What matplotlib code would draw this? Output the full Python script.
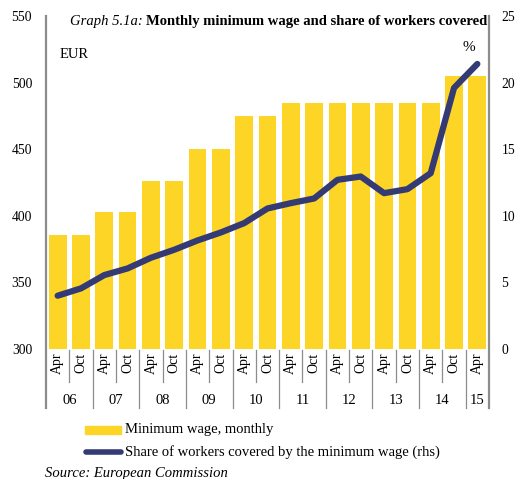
import matplotlib.pyplot as plt
from matplotlib import transforms

plt.rcParams['font.family'] = ['Liberation Serif', 'DejaVu Serif']

months = ['Apr', 'Oct'] * 9 + ['Apr']
years = ['06', '07', '08', '09', '10', '11', '12', '13', '14', '15']
min_wage = [385.9, 385.9, 403, 403, 426, 426, 450, 450, 475, 475,
            485, 485, 485, 485, 485, 485, 485, 505, 505]
share = [4.0, 4.55, 5.55, 6.05, 6.85, 7.45, 8.15, 8.75, 9.45, 10.55,
         10.95, 11.3, 12.7, 12.95, 11.7, 12.0, 13.2, 19.6, 21.4]

yellow = '#fdd526'
navy = '#343b74'
grey = '#8c8c8c'

fig = plt.figure(figsize=(5.18, 4.79), dpi=100)
ax = fig.add_axes([0.0888, 0.2714, 0.8552, 0.6952])
ax2 = ax.twinx()

x = list(range(len(min_wage)))
ax.bar(x, min_wage, width=0.76, color=yellow, zorder=1)
ax2.plot(x, share, color=navy, lw=4.5, solid_capstyle='round', zorder=3)

ax.set_xlim(-0.5, len(x) - 0.5)
ax.set_ylim(300, 550)
ax2.set_ylim(0, 25)
ax.set_yticks([300, 350, 400, 450, 500, 550])
ax2.set_yticks([0, 5, 10, 15, 20, 25])
ax.set_xticks([])

for a in (ax, ax2):
    for s in a.spines.values():
        s.set_visible(False)
    a.tick_params(axis='y', length=0, labelsize=9.8)
ax.tick_params(axis='y', pad=10)
ax2.tick_params(axis='y', pad=9)

# left / right frame lines extend down through the category table
trans = transforms.blended_transform_factory(ax.transData, ax.transAxes)
for xe in (-0.5, len(x) - 0.5):
    ax.plot([xe, xe], [1, -0.177], color=grey, lw=1.6, transform=trans, clip_on=False)

for i, m in enumerate(months):
    ax.text(i, -0.012, m, rotation=90, ha='center', va='top', fontsize=10,
            transform=trans)
    if i < len(x) - 1:
        low = -0.099 if i % 2 == 0 else -0.177
        ax.plot([i + 0.5, i + 0.5], [-0.003, low], color=grey, lw=0.9,
                transform=trans, clip_on=False)

for k, yr in enumerate(years):
    xc = 2 * k + 0.5 if k < len(years) - 1 else 2 * k
    ax.text(xc, -0.155, yr, ha='center', va='center', fontsize=10.5,
            transform=trans)

title = ax.text(0.995, 0.982, 'Monthly minimum wage and share of workers covered',
                ha='right', va='center', fontsize=10.5, fontweight='bold',
                transform=ax.transAxes)
fig.canvas.draw()
bb = title.get_window_extent().transformed(ax.transAxes.inverted())
ax.text(bb.x0 - 0.006, 0.982, 'Graph 5.1a:', ha='right', va='center', fontsize=10.5,
        style='italic', transform=ax.transAxes)
ax.text(0.03, 0.885, 'EUR', ha='left', va='center', fontsize=10.5, transform=ax.transAxes)
ax.text(0.955, 0.905, '%', ha='center', va='center', fontsize=11, transform=ax.transAxes)

# legend
fig.patches.append(plt.Rectangle((85 / 518, 1 - 434 / 479), 36 / 518, 8 / 479,
                                 color=yellow, transform=fig.transFigure))
fig.text(125 / 518, 1 - 430 / 479, 'Minimum wage, monthly', ha='left', va='center',
         fontsize=10.5)
fig.add_artist(plt.Line2D([86 / 518, 121 / 518], [1 - 452 / 479, 1 - 452 / 479],
                          color=navy, lw=4, solid_capstyle='round'))
fig.text(125 / 518, 1 - 452 / 479, 'Share of workers covered by the minimum wage (rhs)',
         ha='left', va='center', fontsize=10.5)
fig.text(45 / 518, 1 - 473 / 479, 'Source: European Commission', ha='left',
         va='center', fontsize=10.5, style='italic')

fig.savefig('out.png', dpi=100)
